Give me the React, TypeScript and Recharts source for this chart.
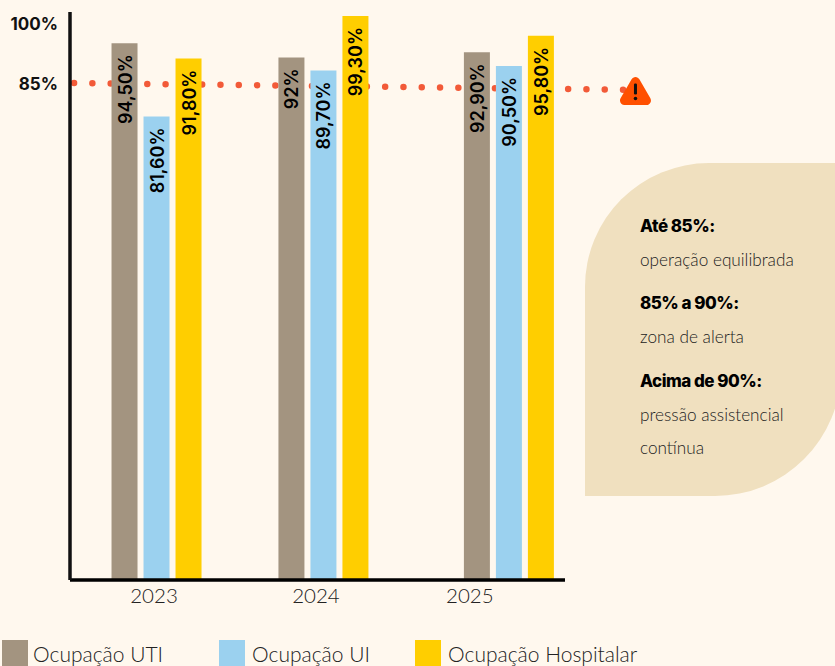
import { Bar, ComposedChart, LabelList, Legend, ReferenceDot, ReferenceLine, XAxis, YAxis } from "recharts"

const BOLD_FONT = "Inter, sans-serif"
const LIGHT_FONT = "Lato, sans-serif"

const years = ["2023", "2024", "2025"]
// groups are not evenly spaced in the original, slot = horizontal place on the axis
const groupSlots = [0, 9, 19]
const yearTickSlots = [-0.16, 8.57, 16.87]

const utiValues = [94.5, 92, 92.9]
const uiValues = [81.6, 89.7, 90.5]
const hospitalValues = [91.8, 99.3, 95.8]

const utiLabels = ["94,50%", "92%", "92,90%"]
const uiLabels = ["81,60%", "89,70%", "90,50%"]
const hospitalLabels = ["91,80%", "99,30%", "95,80%"]

// y ticks sit where the original printed them, not at their nominal value
const yTickValues = [87.3, 97.9]
const yTickLabels = ["85%", "100%"]

const alertLine = [
  { x: -4.47, y: 87.5 },
  { x: 25.3, y: 86.3 },
]
const alertIcon = { x: 25.8, y: 86 }

const panelLines = [
  { text: "Até 85%:", bold: true, center: 226 },
  { text: "operação equilibrada", bold: false, center: 260 },
  { text: "85% a 90%:", bold: true, center: 303 },
  { text: "zona de alerta", bold: false, center: 337 },
  { text: "Acima de 90%:", bold: true, center: 381 },
  { text: "pressão assistencial", bold: false, center: 415 },
  { text: "contínua", bold: false, center: 448 },
]

const legendLefts = [2, 219, 415]
const legendOrder = ["Ocupação UTI", "Ocupação UI", "Ocupação Hospitalar"]

const data = years.map((year, i) => ({
  year,
  slot: groupSlots[i],
  uti: utiValues[i],
  ui: uiValues[i],
  hospital: hospitalValues[i],
  utiLabel: utiLabels[i],
  uiLabel: uiLabels[i],
  hospitalLabel: hospitalLabels[i],
}))

function BarText(props: any) {
  const { x, y, width, value } = props
  const cx = x + width / 2
  const top = y + 11
  return (
    <text
      transform={`translate(${cx + 7},${top}) rotate(-90)`}
      textAnchor="end"
      fontFamily={BOLD_FONT}
      fontWeight={600}
      fontSize={18}
      fill="#000"
    >
      {value}
    </text>
  )
}

function AlertIcon(props: any) {
  const { cx, cy } = props
  return (
    <g transform={`translate(${cx},${cy})`}>
      <path d="M0 -10 L11 9 L-11 9 Z" fill="#FF5000" stroke="#FF5000" strokeWidth={9} strokeLinejoin="round" />
      <rect x={-1.5} y={-8} width={3} height={11} rx={1.2} fill="#111" />
      <circle cx={0} cy={7} r={1.8} fill="#111" />
    </g>
  )
}

function LegendRow(props: any) {
  const items = [...props.payload].sort((a: any, b: any) => legendOrder.indexOf(a.value) - legendOrder.indexOf(b.value))
  return (
    <div style={{ position: "relative", height: 26 }}>
      {items.map((item: any, i: number) => (
        <div key={item.value} style={{ position: "absolute", left: legendLefts[i], top: 0, display: "flex", alignItems: "center", whiteSpace: "nowrap" }}>
          <span style={{ width: 26, height: 26, background: item.color, marginRight: i === 0 ? 5 : 7 }} />
          <span style={{ fontFamily: LIGHT_FONT, fontWeight: 300, fontSize: 21, color: "#222" }}>{item.value}</span>
        </div>
      ))}
    </div>
  )
}

export default function App() {
  return (
    <div style={{ position: "absolute", left: 0, top: 0, width: 835, height: 666, background: "#FFF8EE", overflow: "hidden" }}>
      <div
        style={{
          position: "absolute",
          left: 585,
          top: 163,
          width: 256,
          height: 333,
          background: "#F0E0BF",
          borderRadius: "124px 0 126px 0",
        }}
      />
      {panelLines.map((line) => (
        <div
          key={line.text}
          style={{
            position: "absolute",
            left: 640,
            top: line.center - 12,
            lineHeight: "24px",
            fontFamily: line.bold ? BOLD_FONT : LIGHT_FONT,
            fontWeight: line.bold ? 800 : 300,
            fontSize: line.bold ? 17 : 17.2,
            letterSpacing: line.bold ? -0.5 : 0,
            color: line.bold ? "#000" : "#222",
            whiteSpace: "nowrap",
          }}
        >
          {line.text}
        </div>
      ))}
      <div style={{ position: "absolute", left: 0, top: 0 }}>
        <ComposedChart width={835} height={666} data={data} barSize={26} barGap={6} margin={{ top: 12, right: 270, bottom: 0, left: 0 }}>
          <ReferenceLine
            segment={alertLine}
            ifOverflow="visible"
            stroke="#F25A38"
            strokeWidth={6.5}
            strokeLinecap="round"
            strokeDasharray="0 18.3"
            zIndex={100}
          />
          <XAxis
            type="number"
            dataKey="slot"
            domain={[-4.69, 22]}
            ticks={yearTickSlots}
            tickFormatter={(_v: number, i: number) => years[i]}
            tickLine={false}
            axisLine={{ stroke: "#000", strokeWidth: 3.5 }}
            tick={{ fontFamily: LIGHT_FONT, fontWeight: 300, fontSize: 20.5, fill: "#222" }}
            tickMargin={2}
            height={60}
          />
          <YAxis
            type="number"
            domain={[0, 100]}
            ticks={yTickValues}
            tickFormatter={(_v: number, i: number) => yTickLabels[i]}
            tickLine={false}
            axisLine={{ stroke: "#111", strokeWidth: 3.5 }}
            tick={{ fontFamily: BOLD_FONT, fontWeight: 700, fontSize: 17, fill: "#111" }}
            tickMargin={6}
            width={70}
            interval={0}
          />
          <Bar dataKey="uti" name="Ocupação UTI" fill="#A39480" isAnimationActive={false}>
            <LabelList dataKey="utiLabel" content={BarText} />
          </Bar>
          <Bar dataKey="ui" name="Ocupação UI" fill="#9BD1EF" isAnimationActive={false}>
            <LabelList dataKey="uiLabel" content={BarText} />
          </Bar>
          <Bar dataKey="hospital" name="Ocupação Hospitalar" fill="#FFCE00" isAnimationActive={false}>
            <LabelList dataKey="hospitalLabel" content={BarText} />
          </Bar>
          <ReferenceDot x={alertIcon.x} y={alertIcon.y} ifOverflow="visible" shape={AlertIcon} />
          <Legend
            content={LegendRow}
            wrapperStyle={{ position: "absolute", left: 0, top: 640, width: 835, height: 26 }}
          />
        </ComposedChart>
      </div>
    </div>
  )
}
